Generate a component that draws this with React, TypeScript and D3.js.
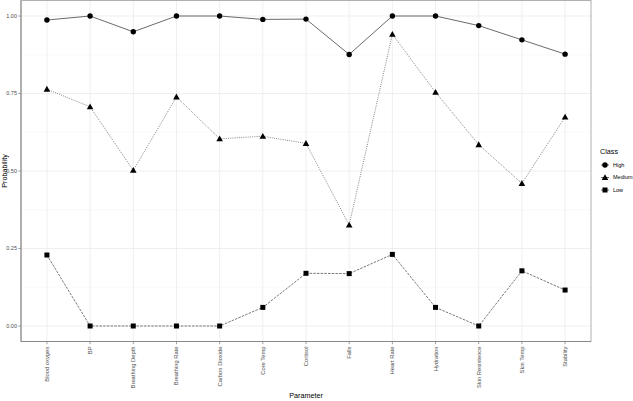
import React from "react";
import * as d3 from "d3";

const categories = [
  "Blood oxygen", "BP", "Breathing Depth", "Breathing Rate", "Carbon Dioxide",
  "Core Temp", "Cortisol", "Falls", "Heart Rate", "Hydration",
  "Skin Resistence", "Skin Temp", "Stability",
];
const highValues = [0.987, 1.0, 0.949, 1.0, 1.0, 0.989, 0.99, 0.876, 1.0, 1.0, 0.969, 0.923, 0.877];
const mediumValues = [0.764, 0.707, 0.502, 0.739, 0.604, 0.612, 0.589, 0.326, 0.941, 0.754, 0.585, 0.46, 0.674];
const lowValues = [0.229, 0, 0, 0, 0, 0.06, 0.17, 0.169, 0.231, 0.06, 0, 0.178, 0.116];
const classNames = ["High", "Medium", "Low"];
const yTicks = [0, 0.25, 0.5, 0.75, 1.0];
const yMinor = [0.125, 0.375, 0.625, 0.875];

const W = 633, H = 401;
const panel = { left: 21, right: 591, top: 0.5, bottom: 341.5 };
const FONT = "Liberation Sans, Arial, sans-serif";

function Shape({ kind, x, y }: { kind: string; x: number; y: number }) {
  if (kind === "High") return <circle cx={x} cy={y} r={2.7} fill="#000" />;
  if (kind === "Medium") {
    const s = 3.3;
    return <path d={`M${x},${y - s}L${x + s},${y + s * 0.75}L${x - s},${y + s * 0.75}Z`} fill="#000" />;
  }
  return <rect x={x - 2.5} y={y - 2.5} width={5} height={5} fill="#000" />;
}

export default function App() {
  const x = d3.scalePoint<string>().domain(categories).range([panel.left, panel.right]).padding(0.6);
  const y = d3.scaleLinear().domain([-0.05, 1.05]).range([panel.bottom, panel.top]);
  const series = [
    { name: "High", values: highValues, dash: undefined as string | undefined, color: "#444" },
    { name: "Medium", values: mediumValues, dash: "1,1.2", color: "#666" },
    { name: "Low", values: lowValues, dash: "2.5,1.2", color: "#555" },
  ];
  const line = d3.line<number>().x((_, i) => x(categories[i])!).y((d) => y(d));
  const legY = [165, 177.5, 190];
  return (
    <svg width={W} height={H} style={{ position: "absolute", left: 0, top: 0, background: "#fff" }} fontFamily={FONT}>
      <rect x={0} y={0} width={W} height={H} fill="#fff" />
      {yMinor.map((t) => (
        <line key={"m" + t} x1={panel.left} x2={panel.right} y1={y(t)} y2={y(t)} stroke="#f2f2f2" strokeWidth={0.5} />
      ))}
      {yTicks.map((t) => (
        <line key={"g" + t} x1={panel.left} x2={panel.right} y1={y(t)} y2={y(t)} stroke="#ebebeb" strokeWidth={0.8} />
      ))}
      {categories.map((c) => (
        <line key={"v" + c} x1={x(c)} x2={x(c)} y1={panel.top} y2={panel.bottom} stroke="#ebebeb" strokeWidth={0.8} />
      ))}
      {series.map((s) => (
        <path key={s.name} d={line(s.values)!} fill="none" stroke={s.color} strokeWidth={0.8} strokeDasharray={s.dash} />
      ))}
      {series.map((s) =>
        s.values.map((v, i) => <Shape key={s.name + i} kind={s.name} x={x(categories[i])!} y={y(v)} />)
      )}
      <rect x={panel.left} y={panel.top} width={panel.right - panel.left} height={panel.bottom - panel.top} fill="none" stroke="#b0b0b0" strokeWidth={1} />
      <line x1={panel.left} x2={panel.left} y1={panel.top} y2={panel.bottom} stroke="#888" strokeWidth={1} />
      <line x1={panel.left} x2={panel.right} y1={panel.bottom} y2={panel.bottom} stroke="#888" strokeWidth={1} />
      {yTicks.map((t) => (
        <g key={"t" + t}>
          <line x1={panel.left - 2.7} x2={panel.left} y1={y(t)} y2={y(t)} stroke="#888" strokeWidth={0.8} />
          <text x={panel.left - 4} y={y(t)} dy="0.35em" textAnchor="end" fontSize={5.5} fill="#4d4d4d">
            {t.toFixed(2)}
          </text>
        </g>
      ))}
      {categories.map((c) => (
        <g key={"x" + c}>
          <line x1={x(c)} x2={x(c)} y1={panel.bottom} y2={panel.bottom + 2.7} stroke="#888" strokeWidth={0.8} />
          <text transform={`translate(${x(c)},${panel.bottom + 5}) rotate(-90)`} dy="0.35em" textAnchor="end" fontSize={5.8} fill="#4d4d4d">
            {c}
          </text>
        </g>
      ))}
      <text transform={`translate(7,${(panel.top + panel.bottom) / 2}) rotate(-90)`} textAnchor="middle" fontSize={7.2} fill="#000">
        Probability
      </text>
      <text x={(panel.left + panel.right) / 2} y={398} textAnchor="middle" fontSize={7.2} fill="#000">
        Parameter
      </text>
      <text x={600} y={154} fontSize={7.2} fill="#000">Class</text>
      {classNames.map((n, i) => (
        <g key={"l" + n}>
          <line x1={601} x2={609} y1={legY[i]} y2={legY[i]} stroke="#444" strokeWidth={0.8} />
          <Shape kind={n} x={605} y={legY[i]} />
          <text x={613} y={legY[i]} dy="0.35em" fontSize={5.5} fill="#000">{n}</text>
        </g>
      ))}
    </svg>
  );
}
